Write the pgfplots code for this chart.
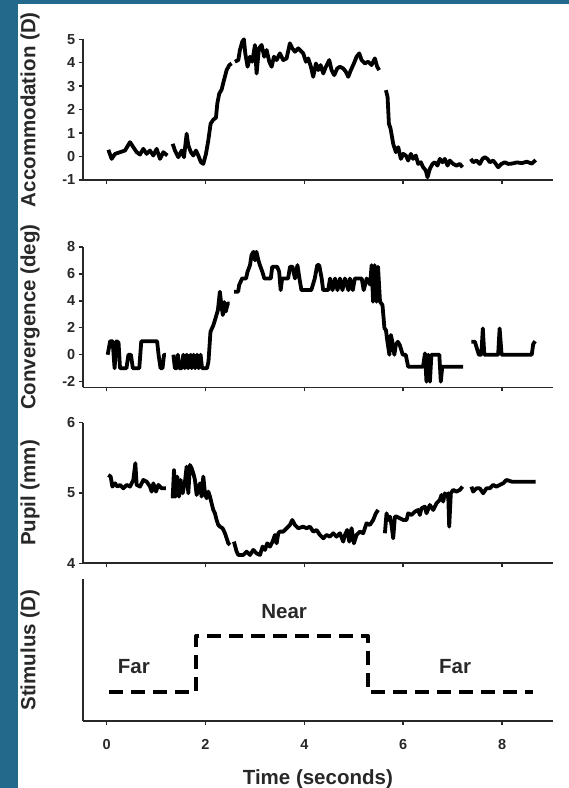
\documentclass[border=0pt]{standalone}
\usepackage{pgfplots}
\pgfplotsset{compat=1.18}
\usepackage{fontspec}
\setmainfont{Liberation Sans}
\definecolor{bluebg}{RGB}{34,105,140}
\definecolor{axgray}{RGB}{40,40,40}
\begin{document}
\begin{tikzpicture}
\path[use as bounding box] (0,0) rectangle (569bp,788bp);
\fill[bluebg] (0,0) rectangle (569bp,788bp);
\fill[white] (18bp,0) rectangle (569bp,784bp);
\pgfplotsset{
 panel/.style={
  scale only axis, width=470.3bp, height=140.7bp,
  xmin=-0.485, xmax=9.03,
  axis lines=left, axis line style={-, line width=1.7bp, draw=axgray},
  tick align=outside, major tick length=4bp,
  tick style={line width=1.5bp, draw=axgray},
  xtick={0,2,4,6,8},
  clip=false, unbounded coords=jump,
  /pgf/number format/assume math mode=true,
  ticklabel style={font=\bfseries\fontsize{14.5bp}{16bp}\selectfont, text=axgray},
  xticklabel style={yshift=-11bp},
  label style={font=\bfseries\fontsize{20.5bp}{23bp}\selectfont, text=axgray},
  ylabel style={at={(axis description cs:-0.112,0.5)}, anchor=center},
  every axis plot post/.append style={line width=3.8bp, black, line join=round, mark=none},
 },
}
% Panel 1: Accommodation
\begin{axis}[panel, at={(82.7bp,608bp)}, anchor=south west,
  ymin=-1, ymax=5, ytick={-1,0,1,2,3,4,5}, xticklabels={},
  ylabel={Accommodation (D)}]
\addplot coordinates {
(0.034,0.286) (0.101,-0.1) (0.169,0.114) (0.270,0.186) (0.371,0.257) (0.472,0.614) (0.539,0.4) (0.607,0.186) (0.674,0.086) (0.741,0.329) (0.809,0.114) (0.876,0.257) (0.944,0.043) (1.011,0.329) (1.079,-0.1) (1.146,0.186) (1.227,0.043)
(1.28,nan)
(1.335,0.543) (1.382,0.257) (1.449,-0.029) (1.517,0.257) (1.564,-0.029) (1.618,0.971) (1.652,0.471) (1.705,0.186) (1.753,0.043) (1.807,0.257) (1.854,0.043) (1.908,-0.243) (1.955,-0.314) (2.009,0.114) (2.056,0.686) (2.103,1.4) (2.157,1.571) (2.211,1.657) (2.238,2.257) (2.278,2.686) (2.326,2.857) (2.373,3.257) (2.427,3.686) (2.481,3.9) (2.528,3.971)
(2.56,nan)
(2.595,4.043) (2.663,4.114) (2.696,4.543) (2.744,4.9) (2.777,5.0) (2.804,4.4) (2.851,3.829) (2.899,4.257) (2.946,4.043) (3.000,4.757) (3.033,3.543) (3.081,4.614) (3.134,4.757) (3.188,4.257) (3.236,4.543) (3.290,4.043) (3.337,3.829) (3.384,4.257) (3.438,4.114) (3.505,4.4) (3.573,4.114) (3.640,4.186) (3.707,4.829) (3.755,4.614) (3.809,4.471) (3.876,4.614) (3.977,4.4) (4.031,4.043) (4.078,4.186) (4.132,3.829) (4.179,3.4) (4.233,3.971) (4.280,3.686) (4.328,3.9) (4.382,3.543) (4.435,3.829) (4.503,4.114) (4.55,3.686) (4.604,3.471) (4.665,3.757) (4.719,3.829) (4.786,3.757) (4.840,3.614) (4.887,3.4) (4.941,3.686) (5.002,3.971) (5.056,4.257) (5.110,4.4) (5.157,4.114) (5.224,3.971) (5.292,4.043) (5.359,3.9) (5.426,4.186) (5.473,3.829) (5.514,3.686)
(5.58,nan)
(5.649,2.829) (5.683,2.543) (5.710,1.4) (5.744,1.186) (5.797,0.543) (5.851,0.186) (5.899,0.4) (5.952,-0.1) (6.0,0.114) (6.053,0.043) (6.1,-0.171) (6.154,0.114) (6.2,-0.1) (6.255,0.043) (6.302,-0.314) (6.356,-0.243) (6.403,-0.457) (6.457,-0.6) (6.491,-0.886) (6.538,-0.529) (6.592,-0.314) (6.639,-0.243) (6.693,-0.386) (6.740,-0.1) (6.794,-0.243) (6.842,-0.1) (6.896,-0.386) (6.943,-0.171) (7.010,-0.314) (7.078,-0.386) (7.145,-0.314) (7.199,-0.457)
(7.28,nan)
(7.367,-0.1) (7.414,-0.243) (7.482,-0.171) (7.549,-0.314) (7.603,-0.1) (7.650,-0.029) (7.704,-0.1) (7.751,-0.243) (7.819,-0.171) (7.873,-0.314) (7.920,-0.457) (7.987,-0.314) (8.055,-0.243) (8.122,-0.314) (8.2,-0.3) (8.3,-0.25) (8.4,-0.28) (8.5,-0.22) (8.6,-0.3) (8.68,-0.15)
};
\end{axis}
% Panel 2: Convergence
\begin{axis}[panel, at={(82.7bp,400.5bp)}, anchor=south west,
  ymin=-2.43, ymax=8, ytick={-2,0,2,4,6,8}, xticklabels={},
  ylabel={Convergence (deg)}]
\addplot coordinates {
(0.02,0) (0.07,1) (0.12,1) (0.16,-1) (0.2,1) (0.24,0.9) (0.27,-1) (0.33,-1) (0.4,-1) (0.44,0) (0.49,0) (0.53,-1) (0.66,-1) (0.7,1) (1.02,1) (1.05,0) (1.09,-1) (1.13,-1) (1.16,0) (1.2,0)
(1.27,nan)
(1.35,0) (1.38,-1) (1.42,-1) (1.44,0) (1.47,-1) (1.52,-1) (1.55,0) (1.58,-1) (1.62,0) (1.65,-1) (1.7,0) (1.72,-1) (1.76,0) (1.79,-1) (1.83,0) (1.86,-1) (1.9,0) (1.93,-1) (2.03,-1) (2.06,-0.5) (2.1,1.7) (2.16,2.2) (2.21,2.8) (2.25,3.3) (2.29,4.67) (2.32,3.7) (2.35,2.94) (2.38,3.9) (2.41,3.2) (2.45,3.8) (2.49,3.8)
(2.54,nan)
(2.58,4.67) (2.66,4.67) (2.68,5.16) (2.74,5.65) (2.82,5.65) (2.85,6.15) (2.9,6.64) (2.93,7.38) (2.97,7.63) (3.0,7.0) (3.03,7.63) (3.07,7.0) (3.1,6.64) (3.15,6.15) (3.19,5.65) (3.32,5.65) (3.35,6.52) (3.45,6.52) (3.49,6.15) (3.52,4.79) (3.55,5.65) (3.67,5.65) (3.71,6.52) (3.76,6.52) (3.81,5.65) (3.86,6.64) (3.9,5.65) (3.94,4.79) (4.14,4.79) (4.21,5.65) (4.26,6.64) (4.3,6.64) (4.35,5.65) (4.38,4.79) (4.48,4.79) (4.52,5.65) (4.57,4.79) (4.62,5.65) (4.67,4.79) (4.72,5.65) (4.77,4.79) (4.82,5.65) (4.89,4.79) (4.92,5.65) (4.98,4.79) (5.02,5.65) (5.16,5.65) (5.2,4.79) (5.26,5.65) (5.33,5.2) (5.36,6.64) (5.39,3.93) (5.42,6.64) (5.46,3.93) (5.49,6.52) (5.53,3.93) (5.58,3.68) (5.62,1.95) (5.65,1.83) (5.68,0.96) (5.72,0) (5.75,1.46) (5.78,0.96) (5.82,0) (5.85,0.72) (5.89,0.96) (5.93,0.72) (5.99,0) (6.05,0) (6.1,-0.89) (6.4,-0.89) (6.44,0.1) (6.47,-2) (6.51,0) (6.54,-2) (6.57,0) (6.73,0) (6.76,-2) (6.79,-0.89) (7.21,-0.89)
(7.3,nan)
(7.38,0.96) (7.45,0.96) (7.5,0.35) (7.53,0) (7.58,0) (7.61,1.95) (7.64,0) (7.92,0) (7.95,1.95) (7.99,0) (8.6,0) (8.63,0.8) (8.67,1)
};
\end{axis}
% Panel 3: Pupil
\begin{axis}[panel, at={(82.7bp,224.7bp)}, anchor=south west,
  ymin=4, ymax=6, ytick={4,5,6}, xticklabels={},
  ylabel={Pupil (mm)}]
\addplot coordinates {
(0.034,5.256) (0.081,5.232) (0.115,5.090) (0.169,5.137) (0.216,5.090) (0.270,5.114) (0.337,5.066) (0.404,5.114) (0.472,5.090) (0.539,5.185) (0.58,5.422) (0.607,5.114) (0.674,5.090) (0.741,5.185) (0.809,5.161) (0.876,5.090) (0.910,5.019) (0.944,5.137) (0.998,5.019) (1.045,5.114) (1.112,5.066) (1.2,5.066)
(1.26,nan)
(1.335,4.924) (1.362,5.327) (1.395,4.948) (1.429,5.232) (1.463,4.948) (1.496,5.185) (1.537,4.995) (1.584,5.161) (1.618,5.374) (1.652,4.995) (1.685,5.398) (1.719,5.351) (1.753,5.280) (1.786,5.185) (1.820,4.972) (1.854,5.043) (1.887,5.137) (1.921,4.948) (1.955,5.232) (1.989,4.995) (2.022,4.924) (2.056,5.019) (2.09,4.948) (2.123,4.853) (2.157,4.758) (2.191,4.711) (2.224,4.616) (2.258,4.545) (2.292,4.521) (2.346,4.498) (2.393,4.427) (2.427,4.355) (2.46,4.284) (2.494,4.261)
(2.54,nan)
(2.575,4.308) (2.629,4.166) (2.663,4.118) (2.764,4.118) (2.831,4.166) (2.899,4.118) (2.966,4.190) (3.033,4.142) (3.101,4.118) (3.155,4.237) (3.202,4.190) (3.249,4.284) (3.303,4.237) (3.357,4.308) (3.404,4.403) (3.438,4.284) (3.472,4.427) (3.505,4.450) (3.573,4.450) (3.640,4.498) (3.707,4.545) (3.755,4.616) (3.809,4.545) (3.876,4.498) (3.977,4.521) (4.044,4.498) (4.112,4.521) (4.179,4.450) (4.247,4.474) (4.314,4.403) (4.382,4.355) (4.449,4.403) (4.516,4.379) (4.584,4.427) (4.651,4.379) (4.719,4.427) (4.786,4.308) (4.820,4.403) (4.867,4.474) (4.908,4.308) (4.955,4.498) (5.002,4.284) (5.056,4.403) (5.123,4.450) (5.19,4.427) (5.258,4.569) (5.325,4.545) (5.392,4.616) (5.446,4.711) (5.493,4.758)
(5.56,nan)
(5.629,4.427) (5.662,4.711) (5.696,4.616) (5.730,4.664) (5.763,4.545) (5.797,4.355) (5.831,4.664) (5.864,4.664) (5.932,4.640) (5.999,4.616) (6.067,4.616) (6.1,4.711) (6.168,4.687) (6.235,4.735) (6.302,4.758) (6.336,4.687) (6.370,4.782) (6.437,4.806) (6.471,4.711) (6.538,4.829) (6.606,4.758) (6.673,4.853) (6.740,4.900) (6.774,4.972) (6.808,4.877) (6.842,4.995) (6.875,4.948) (6.909,4.995) (6.93,4.521) (6.963,4.995) (7.010,5.043) (7.078,5.019) (7.145,5.043) (7.2,5.090)
(7.28,nan)
(7.38,5.090) (7.414,5.019) (7.482,5.066) (7.549,5.066) (7.617,4.995) (7.684,5.066) (7.751,5.066) (7.819,5.114) (7.886,5.090) (7.954,5.114) (8.021,5.137) (8.089,5.185) (8.2,5.16) (8.68,5.16)
};
\end{axis}
% Panel 4: Stimulus
\begin{axis}[panel, at={(82.7bp,66.8bp)}, anchor=south west, height=142bp,
  ymin=0, ymax=5, ytick=\empty,
  ylabel={Stimulus (D)},
  xlabel={Time (seconds)},
  xlabel style={at={(axis description cs:0.5,-0.41)}, anchor=center}]
\addplot[line width=3.6bp, dash pattern=on 14bp off 8bp] coordinates {
(0.04,1.04) (1.81,1.04) (1.81,3.0) (5.29,3.0) (5.29,1.04) (8.63,1.04)
};
\node[font=\bfseries\fontsize{20.5bp}{23bp}\selectfont, text=axgray] at (axis cs:3.59,3.86) {Near};
\node[font=\bfseries\fontsize{20.5bp}{23bp}\selectfont, text=axgray] at (axis cs:0.55,1.92) {Far};
\node[font=\bfseries\fontsize{20.5bp}{23bp}\selectfont, text=axgray] at (axis cs:7.05,1.92) {Far};
\end{axis}
\end{tikzpicture}
\end{document}
